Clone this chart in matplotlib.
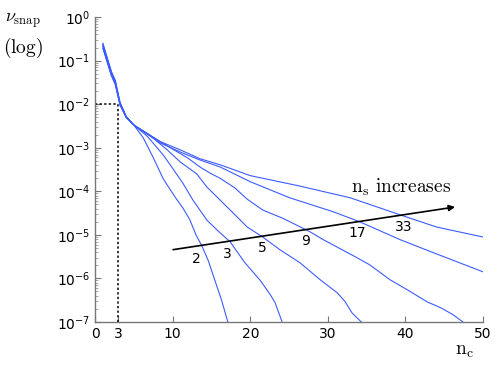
import matplotlib
matplotlib.use("Agg")
import matplotlib.pyplot as plt
import numpy as np

# one curve per n_s value; x is n_c, y stored as log10(nu_snap)
ns_labels = ["2", "3", "5", "9", "17", "33"]

nc_2 = [1, 2.1, 2.6, 3.2, 4.0, 5.0, 6.2, 7.5, 8.8, 10.3, 11.3, 12.2, 13.0, 13.8, 14.6, 15.5, 16.3, 17.1]
lg_2 = [-0.72, -1.35, -1.55, -2.02, -2.3, -2.48, -2.77, -3.23, -3.72, -4.13, -4.38, -4.65, -5.0, -5.27,
        -5.6, -6.08, -6.5, -7.0]

nc_3 = [1, 2.1, 2.6, 3.2, 4.0, 5.0, 6.7, 8.8, 10.1, 11.3, 12.6, 14.4, 15.9, 17.4, 19.3, 21.3, 22.6, 23.2, 24.1]
lg_3 = [-0.69, -1.33, -1.53, -2.0, -2.3, -2.48, -2.73, -3.17, -3.5, -3.81, -4.2, -4.66, -4.92, -5.16,
        -5.64, -6.05, -6.38, -6.56, -7.0]

nc_5 = [1, 2.1, 2.6, 3.2, 4.0, 5.0, 7.1, 9.3, 11.0, 13.1, 14.4, 16.1, 17.8, 19.6, 21.6, 23.8, 26.4, 29.0,
        31.2, 32.2, 33.1, 34.3]
lg_5 = [-0.66, -1.31, -1.51, -1.99, -2.3, -2.48, -2.72, -3.05, -3.33, -3.6, -3.9, -4.2, -4.5, -4.82,
        -5.05, -5.34, -5.64, -6.03, -6.33, -6.53, -6.79, -7.0]

nc_9 = [1, 2.1, 2.6, 3.2, 4.0, 5.0, 7.5, 9.7, 11.9, 13.5, 14.8, 16.1, 18.0, 19.6, 21.6, 24.2, 27.7, 29.4,
        31.6, 33.5, 35.4, 38.0, 40.6, 42.8, 44.5, 46.1, 47.4]
lg_9 = [-0.64, -1.29, -1.49, -1.98, -2.29, -2.48, -2.76, -3.0, -3.23, -3.44, -3.58, -3.7, -3.92, -4.18,
        -4.43, -4.62, -4.93, -5.11, -5.32, -5.5, -5.69, -6.03, -6.3, -6.54, -6.67, -6.83, -7.0]

nc_17 = [1, 2.1, 2.6, 3.2, 4.0, 5.0, 8.4, 11.0, 13.5, 16.1, 20.0, 25.1, 30.7, 34.1, 39.3, 43.6, 50.0]
lg_17 = [-0.62, -1.27, -1.47, -1.96, -2.28, -2.48, -2.89, -3.1, -3.28, -3.44, -3.78, -4.15, -4.47, -4.7,
         -5.11, -5.41, -5.85]

nc_33 = [1, 2.1, 2.6, 3.2, 4.0, 5.0, 8.4, 11.0, 13.5, 16.1, 20.0, 26.4, 32.9, 39.3, 44.0, 50.0]
lg_33 = [-0.6, -1.25, -1.45, -1.95, -2.28, -2.48, -2.86, -3.05, -3.25, -3.39, -3.64, -3.88, -4.15, -4.54,
         -4.82, -5.05]

curves_nc = [nc_2, nc_3, nc_5, nc_9, nc_17, nc_33]
curves_lg = [lg_2, lg_3, lg_5, lg_9, lg_17, lg_33]

# where each n_s number sits under the arrow
label_nc = [13.1, 17.0, 21.6, 27.1, 33.8, 39.8]
label_lg = [-5.55, -5.44, -5.30, -5.14, -4.96, -4.82]

arrow_start = (10.05, -5.34)
arrow_end = (46.4, -4.36)

fig = plt.figure(figsize=(4.98, 3.65), dpi=100)
ax = fig.add_axes([0.191, 0.118, 0.779, 0.835])

for xs, lg in zip(curves_nc, curves_lg):
    ax.plot(xs, 10 ** np.array(lg), color="#3d5cff", lw=0.8)

# dotted guide at n_c = 3
ax.plot([3, 3], [1e-7, 1e-2], color="black", ls=(0, (1.5, 1.5)), lw=1.1)
ax.plot([0, 3], [1e-2, 1e-2], color="black", ls=(0, (1.5, 1.5)), lw=1.1)

ax.annotate("", xy=(arrow_end[0], 10 ** arrow_end[1]), xytext=(arrow_start[0], 10 ** arrow_start[1]),
            arrowprops=dict(arrowstyle="-|>", color="black", lw=1.2, mutation_scale=9,
                            shrinkA=0, shrinkB=0))

for lab, x, lg in zip(ns_labels, label_nc, label_lg):
    ax.text(x, 10 ** lg, lab, ha="center", va="center", fontsize=10)

ax.text(33.0, 10 ** -4.04, r"$\mathrm{n_s\ increases}$", fontsize=14, ha="left", va="baseline",
        math_fontfamily="cm")

ax.set_yscale("log")
ax.set_xlim(0, 50)
ax.set_ylim(1e-7, 1)
ax.set_xticks([0, 3, 10, 20, 30, 40, 50])

for s in ["top", "right"]:
    ax.spines[s].set_visible(False)
for s in ["left", "bottom"]:
    ax.spines[s].set_color("#777777")
    ax.spines[s].set_linewidth(1.0)
ax.tick_params(which="major", direction="in", length=4, color="#777777", labelsize=10)
ax.tick_params(which="minor", direction="in", length=2, color="#999999")
ax.tick_params(axis="x", pad=4)

fig.text(0.010, 0.945, r"$\nu_{\mathrm{snap}}$", fontsize=13, math_fontfamily="cm", va="center")
fig.text(0.006, 0.870, r"$\mathrm{(log)}$", fontsize=14, math_fontfamily="cm", va="center")
fig.text(0.934, 0.040, r"$\mathrm{n_c}$", fontsize=14, math_fontfamily="cm", ha="center", va="center")

fig.savefig("out.png", dpi=100)
